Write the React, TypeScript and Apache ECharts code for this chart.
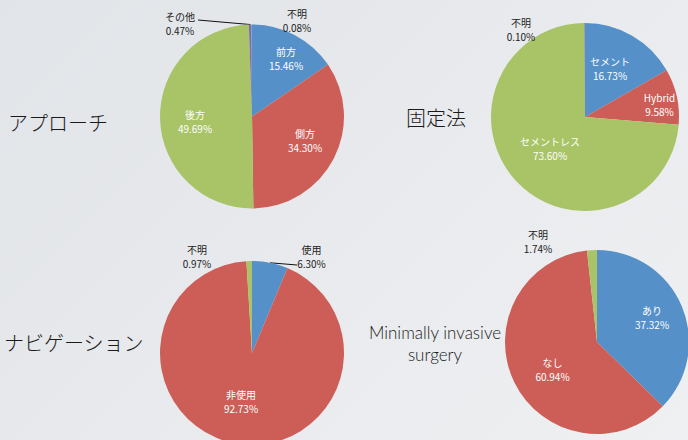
import React, { useEffect, useRef } from "react";
import * as echarts from "echarts";

// ---- data ----
const approachNames = ["前方", "側方", "後方", "その他", "不明"];
const approachValues = [15.46, 34.3, 49.69, 0.47, 0.08];
const fixationNames = ["セメント", "Hybrid", "セメントレス", "不明"];
const fixationValues = [16.73, 9.58, 73.6, 0.1];
const navigationNames = ["使用", "非使用", "不明"];
const navigationValues = [6.3, 92.73, 0.97];
const misNames = ["あり", "なし", "不明"];
const misValues = [37.32, 60.94, 1.74];
const sideTitles = ["アプローチ", "固定法", "ナビゲーション", "Minimally invasive", "surgery"];

// ---- style / layout ----
const BLUE = "#5590c8";
const RED = "#cd5e57";
const GREEN = "#a8c466";
const PURPLE = "#8568ae";
const AQUA = "#4fb0c8";

type PieCfg = {
  names: string[];
  values: number[];
  colors: string[];
  center: [number, number];
  radius: number;
  offsets: [number, number][];
  outside: boolean[];
  line: (null | [number, number])[];
};

const pies: PieCfg[] = [
  {
    names: approachNames,
    values: approachValues,
    colors: [BLUE, RED, GREEN, PURPLE, AQUA],
    center: [252, 116.5],
    radius: 92,
    offsets: [[34, -58], [53, 23.5], [-57, 5], [-72, -93.5], [45, -96.5]],
    outside: [false, false, false, true, true],
    line: [null, null, null, [-54, -96.5], null],
  },
  {
    names: fixationNames,
    values: fixationValues,
    colors: [BLUE, RED, GREEN, PURPLE],
    center: [585, 117],
    radius: 94,
    offsets: [[25, -49], [74.5, -13], [-35, 31.5], [-64, -87.5]],
    outside: [false, false, false, true],
    line: [null, null, null, null],
  },
  {
    names: navigationNames,
    values: navigationValues,
    colors: [BLUE, RED, GREEN],
    center: [252, 353],
    radius: 92,
    offsets: [[59.5, -97], [-11, 48.5], [-55, -97]],
    outside: [true, false, true],
    line: [[45, -88], null, null],
  },
  {
    names: misNames,
    values: misValues,
    colors: [BLUE, RED, GREEN],
    center: [597, 342],
    radius: 92,
    offsets: [[55, -24.5], [-44.5, 27], [-59, -101]],
    outside: [false, false, true],
    line: [null, null, null],
  },
];

function midAnglePoint(p: PieCfg, idx: number): [number, number] {
  const total = p.values.reduce((a, b) => a + b, 0);
  let before = 0;
  for (let i = 0; i < idx; i++) before += p.values[i];
  const mid = ((before + p.values[idx] / 2) / total) * Math.PI * 2;
  return [p.center[0] + p.radius * Math.sin(mid), p.center[1] - p.radius * Math.cos(mid)];
}

export default function App() {
  const ref = useRef<HTMLDivElement>(null);
  useEffect(() => {
    if (!ref.current) return;
    const chart = echarts.init(ref.current, undefined, { renderer: "svg" });
    const series = pies.map((p) => ({
      type: "pie",
      center: p.center,
      radius: [0, p.radius],
      startAngle: 90,
      clockwise: true,
      avoidLabelOverlap: false,
      silent: true,
      itemStyle: { borderWidth: 0 },
      data: p.names.map((n, i) => ({
        name: n,
        value: p.values[i],
        itemStyle: { color: p.colors[i] },
        label: {
          show: true,
          position: p.outside[i] ? "outside" : "inside",
          color: p.outside[i] ? "#222222" : "#ffffff",
          fontSize: 10,
          lineHeight: 14,
          fontFamily: "'Noto Sans CJK JP', 'Noto Sans', sans-serif",
          align: "center",
          formatter: (prm: any) => `${prm.name}\n${Number(prm.value).toFixed(2)}%`,
        },
        labelLine: {
          show: !!p.line[i],
          lineStyle: { color: "#111111", width: 1 },
        },
      })),
      labelLayout: (prm: any) => {
        const i = prm.dataIndex;
        const off = p.offsets[i];
        const res: any = {
          x: p.center[0] + off[0],
          y: p.center[1] + off[1],
          align: "center",
          verticalAlign: "middle",
        };
        const ln = p.line[i];
        if (ln) {
          const s = midAnglePoint(p, i);
          const e: [number, number] = [p.center[0] + ln[0], p.center[1] + ln[1]];
          res.labelLinePoints = [s, e, e];
        }
        return res;
      },
    }));

    const titleStyle = {
      fill: "#1a1a1a",
      fontSize: 20,
      fontFamily: "'Noto Sans CJK JP', sans-serif",
      fontWeight: 300,
      verticalAlign: "middle",
    };
    const engStyle = {
      fill: "#1a1a1a",
      fontSize: 17,
      fontFamily: "Lato, 'Open Sans', sans-serif",
      fontWeight: 300,
      verticalAlign: "middle",
      align: "center",
    };

    chart.setOption({
      animation: false,
      backgroundColor: "transparent",
      series,
      graphic: [
        { type: "text", x: 8, y: 122, style: { ...titleStyle, text: sideTitles[0] } },
        { type: "text", x: 406, y: 117, style: { ...titleStyle, text: sideTitles[1] } },
        { type: "text", x: 4, y: 342, style: { ...titleStyle, text: sideTitles[2] } },
        { type: "text", x: 435, y: 332, style: { ...engStyle, text: sideTitles[3] } },
        { type: "text", x: 435, y: 354, style: { ...engStyle, text: sideTitles[4] } },
      ],
    });
    return () => chart.dispose();
  }, []);

  return (
    <div
      style={{
        position: "fixed",
        left: 0,
        top: 0,
        width: 688,
        height: 440,
        background: "linear-gradient(135deg, #e1e4e8 0%, #e8eaed 50%, #eef0f2 100%)",
      }}
    >
      <div ref={ref} style={{ width: 688, height: 440 }} />
    </div>
  );
}
